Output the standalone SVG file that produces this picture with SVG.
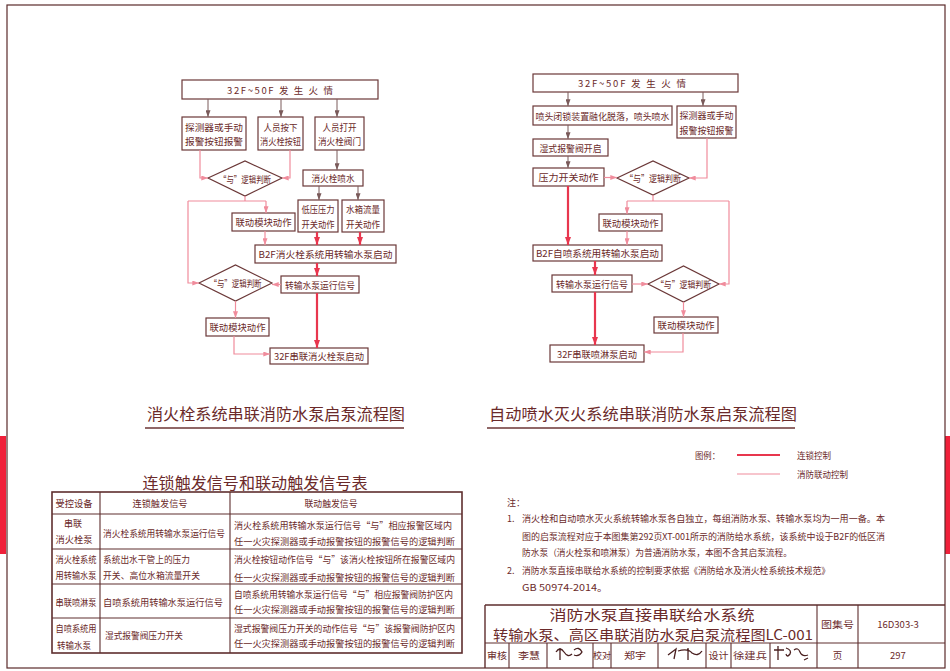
<svg xmlns="http://www.w3.org/2000/svg" width="950" height="671" viewBox="0 0 950 671">
<style>
.bx{fill:#fff;stroke:#6b3838;stroke-width:1.2}
.t{font-family:"Noto Sans CJK SC","Noto Sans",sans-serif;font-size:9.5px;fill:#6b2a2a;text-anchor:middle;dominant-baseline:central}
.ts{font-family:"Noto Sans CJK SC","Noto Sans",sans-serif;font-size:9px;fill:#6b2a2a;dominant-baseline:central}
.tl{font-family:"Noto Sans CJK SC","Noto Sans",sans-serif;fill:#6b2a2a;text-anchor:middle;dominant-baseline:central}
.g{stroke:#7a5a5a;stroke-width:1;fill:none}
.p{stroke:#f08c9c;stroke-width:1.2;fill:none}
.r{stroke:#e8364e;stroke-width:2.2;fill:none}
.ln{stroke:#5e2e2e;stroke-width:1.1;fill:none}
</style>
<defs>
<marker id="ag" viewBox="0 0 8 6" refX="8" refY="3" markerWidth="7" markerHeight="5" orient="auto" markerUnits="userSpaceOnUse"><path d="M0,0 L8,3 L0,6 z" fill="#7a5a5a"/></marker>
<marker id="ap" viewBox="0 0 8 6" refX="8" refY="3" markerWidth="7" markerHeight="5" orient="auto" markerUnits="userSpaceOnUse"><path d="M0,0 L8,3 L0,6 z" fill="#f08c9c"/></marker>
<marker id="ar" viewBox="0 0 8 6" refX="8" refY="3" markerWidth="8" markerHeight="6" orient="auto" markerUnits="userSpaceOnUse"><path d="M0,0 L8,3 L0,6 z" fill="#e8364e"/></marker>
</defs>
<rect x="0" y="0" width="950" height="671" fill="#fff"/>
<rect x="0" y="436" width="6" height="118" fill="#f0203a"/>
<rect x="945" y="436" width="5" height="118" fill="#f0203a"/>
<rect x="7" y="5" width="938" height="663" fill="none" stroke="#5a2a2a" stroke-width="1.2"/>

<!-- Left flowchart nodes -->
<g id="L_top"><rect class="bx" x="182" y="80" width="196" height="19"/><text class="t" x="280" y="89.5" font-size="11" textLength="106" lengthAdjust="spacing">32F~50F  发  生  火  情</text></g>
<g id="L_det"><rect class="bx" x="182" y="117" width="64" height="33"/><text class="t" x="214" y="127" textLength="58" lengthAdjust="spacingAndGlyphs">探测器或手动</text><text class="t" x="214" y="141" textLength="58" lengthAdjust="spacingAndGlyphs">报警按钮报警</text></g>
<g id="L_btn"><rect class="bx" x="258" y="117" width="45" height="33"/><text class="t" x="280.5" y="127" font-size="8.5" textLength="34" lengthAdjust="spacingAndGlyphs">人员按下</text><text class="t" x="280.5" y="141" font-size="8.5" textLength="41" lengthAdjust="spacingAndGlyphs">消火栓按钮</text></g>
<g id="L_open"><rect class="bx" x="315" y="117" width="49" height="33"/><text class="t" x="339.5" y="127" font-size="8.5" textLength="34" lengthAdjust="spacingAndGlyphs">人员打开</text><text class="t" x="339.5" y="141" font-size="8.5" textLength="43" lengthAdjust="spacingAndGlyphs">消火栓阀门</text></g>
<g id="L_and1"><polygon class="bx" points="208,178 245,161 282,178 245,196"/><text class="t" x="245" y="178.5" font-size="9" textLength="52" lengthAdjust="spacingAndGlyphs">“与”逻辑判断</text></g>
<g id="L_spray"><rect class="bx" x="303" y="170" width="60" height="16"/><text class="t" x="333" y="178" font-size="9" textLength="43" lengthAdjust="spacingAndGlyphs">消火栓喷水</text></g>
<g id="L_lp"><rect class="bx" x="298" y="200" width="40" height="32"/><text class="t" x="318" y="209" font-size="8.5" textLength="33" lengthAdjust="spacingAndGlyphs">低压压力</text><text class="t" x="318" y="224" font-size="8.5" textLength="33" lengthAdjust="spacingAndGlyphs">开关动作</text></g>
<g id="L_wt"><rect class="bx" x="342" y="200" width="42" height="32"/><text class="t" x="363" y="209" font-size="8.5" textLength="34" lengthAdjust="spacingAndGlyphs">水箱流量</text><text class="t" x="363" y="224" font-size="8.5" textLength="34" lengthAdjust="spacingAndGlyphs">开关动作</text></g>
<g id="L_lm1"><rect class="bx" x="232" y="213" width="63" height="18"/><text class="t" x="263.5" y="222" textLength="56" lengthAdjust="spacingAndGlyphs">联动模块动作</text></g>
<g id="L_b2f"><rect class="bx" x="255" y="245" width="141" height="18"/><text class="t" x="325.5" y="254" textLength="134" lengthAdjust="spacingAndGlyphs">B2F消火栓系统用转输水泵启动</text></g>
<g id="L_run"><rect class="bx" x="281" y="276" width="78" height="17"/><text class="t" x="320" y="284.5" font-size="9" textLength="70" lengthAdjust="spacingAndGlyphs">转输水泵运行信号</text></g>
<g id="L_and2"><polygon class="bx" points="199,283 235.5,265 272,283 235.5,301"/><text class="t" x="235.5" y="283" font-size="9" textLength="52" lengthAdjust="spacingAndGlyphs">“与”逻辑判断</text></g>
<g id="L_lm2"><rect class="bx" x="206" y="318" width="63" height="18"/><text class="t" x="237.5" y="327" textLength="56" lengthAdjust="spacingAndGlyphs">联动模块动作</text></g>
<g id="L_32f"><rect class="bx" x="270" y="348" width="98" height="16"/><text class="t" x="319" y="356" font-size="8.7" textLength="90" lengthAdjust="spacingAndGlyphs">32F串联消火栓泵启动</text></g>

<!-- Right flowchart nodes -->
<g id="R_top"><rect class="bx" x="533" y="74" width="205" height="18"/><text class="t" x="632" y="83" font-size="11" textLength="108" lengthAdjust="spacing">32F~50F  发  生  火  情</text></g>
<g id="R_nozzle"><rect class="bx" x="533" y="106" width="139" height="19"/><text class="t" x="602.5" y="115.5" font-size="9" textLength="134" lengthAdjust="spacingAndGlyphs">喷头闭锁装置融化脱落，喷头喷水</text></g>
<g id="R_det"><rect class="bx" x="677" y="106" width="59" height="32"/><text class="t" x="706.5" y="115" font-size="9" textLength="54" lengthAdjust="spacingAndGlyphs">探测器或手动</text><text class="t" x="706.5" y="130" font-size="9" textLength="54" lengthAdjust="spacingAndGlyphs">报警按钮报警</text></g>
<g id="R_wet"><rect class="bx" x="533" y="139" width="75" height="17"/><text class="t" x="570.5" y="147.5" font-size="9" textLength="62" lengthAdjust="spacingAndGlyphs">湿式报警阀开启</text></g>
<g id="R_ps"><rect class="bx" x="533" y="168" width="71" height="18"/><text class="t" x="568.5" y="177" font-size="10" textLength="60" lengthAdjust="spacingAndGlyphs">压力开关动作</text></g>
<g id="R_and1"><polygon class="bx" points="617,178 653,161 689,178 653,195"/><text class="t" x="653" y="178" textLength="56" lengthAdjust="spacingAndGlyphs">“与”逻辑判断</text></g>
<g id="R_lm1"><rect class="bx" x="599" y="214" width="63" height="17"/><text class="t" x="630.5" y="222.5" textLength="56" lengthAdjust="spacingAndGlyphs">联动模块动作</text></g>
<g id="R_b2f"><rect class="bx" x="533" y="245" width="129" height="16"/><text class="t" x="597.5" y="253" font-size="9" textLength="123" lengthAdjust="spacingAndGlyphs">B2F自喷系统用转输水泵启动</text></g>
<g id="R_run"><rect class="bx" x="552" y="275" width="80" height="17"/><text class="t" x="592" y="283.5" font-size="9" textLength="72" lengthAdjust="spacingAndGlyphs">转输水泵运行信号</text></g>
<g id="R_and2"><polygon class="bx" points="648,284 683.5,266 719,284 683.5,302"/><text class="t" x="683.5" y="284" font-size="9.2" textLength="55" lengthAdjust="spacingAndGlyphs">“与”逻辑判断</text></g>
<g id="R_lm2"><rect class="bx" x="654" y="317" width="64" height="16"/><text class="t" x="686" y="325" textLength="57" lengthAdjust="spacingAndGlyphs">联动模块动作</text></g>
<g id="R_32f"><rect class="bx" x="550" y="345" width="94" height="17"/><text class="t" x="597" y="353.5" font-size="8.5" textLength="80" lengthAdjust="spacingAndGlyphs">32F串联喷淋泵启动</text></g>

<!-- Connectors -->
<g id="connectors">
<path class="g" d="M208,99 V117" marker-end="url(#ag)"/>
<path class="g" d="M281,99 V117" marker-end="url(#ag)"/>
<path class="g" d="M337,99 V117" marker-end="url(#ag)"/>
<path class="g" d="M337,150 V170" marker-end="url(#ag)"/>
<path class="g" d="M319,186 V200" marker-end="url(#ag)"/>
<path class="g" d="M358,186 V200" marker-end="url(#ag)"/>
<path class="p" d="M200,150 V178 H208" marker-end="url(#ap)"/>
<path class="p" d="M290,150 V178 H282" marker-end="url(#ap)"/>
<path class="p" d="M245,196 V201 M188,201 H266"/>
<path class="p" d="M266,201 V213" marker-end="url(#ap)"/>
<path class="p" d="M188,201 V283 H199" marker-end="url(#ap)"/>
<path class="p" d="M265,231 V245" marker-end="url(#ap)"/>
<path class="p" d="M281,284.5 H272" marker-end="url(#ap)"/>
<path class="p" d="M235.5,301 V318" marker-end="url(#ap)"/>
<path class="p" d="M234,336 V354 H270" marker-end="url(#ap)"/>
<path class="r" d="M317,232 V245" marker-end="url(#ar)"/>
<path class="r" d="M360,232 V245" marker-end="url(#ar)"/>
<path class="r" d="M317,263 V276" marker-end="url(#ar)"/>
<path class="r" d="M317,293 V348" marker-end="url(#ar)"/>

<path class="g" d="M568,92 V106" marker-end="url(#ag)"/>
<path class="g" d="M703,92 V106" marker-end="url(#ag)"/>
<path class="g" d="M568,125 V139" marker-end="url(#ag)"/>
<path class="g" d="M568,156 V168" marker-end="url(#ag)"/>
<path class="p" d="M604,177.5 H617" marker-end="url(#ap)"/>
<path class="p" d="M707,138 V178 H689" marker-end="url(#ap)"/>
<path class="p" d="M653,195 V201 M627,201 H729"/>
<path class="p" d="M627,201 V214" marker-end="url(#ap)"/>
<path class="p" d="M729,201 V284 H719" marker-end="url(#ap)"/>
<path class="p" d="M627,231 V245" marker-end="url(#ap)"/>
<path class="p" d="M632,284 H648" marker-end="url(#ap)"/>
<path class="p" d="M683.5,302 V317" marker-end="url(#ap)"/>
<path class="p" d="M683,333 V352 H644" marker-end="url(#ap)"/>
<path class="r" d="M568,186 V245" marker-end="url(#ar)"/>
<path class="r" d="M595,261 V275" marker-end="url(#ar)"/>
<path class="r" d="M595,292 V345" marker-end="url(#ar)"/>
</g>

<!-- Chart titles -->
<g id="titles">
<text class="tl" x="276" y="413" font-size="16" textLength="258" lengthAdjust="spacingAndGlyphs">消火栓系统串联消防水泵启泵流程图</text>
<line x1="145" y1="428" x2="404" y2="428" stroke="#6b3535" stroke-width="1.6"/>
<text class="tl" x="643" y="413" font-size="16" textLength="308" lengthAdjust="spacingAndGlyphs">自动喷水灭火系统串联消防水泵启泵流程图</text>
<line x1="487" y1="428" x2="795" y2="428" stroke="#6b3535" stroke-width="1.6"/>
</g>

<!-- Table -->
<g id="table">
<text class="tl" x="255" y="482" font-size="16" textLength="225" lengthAdjust="spacingAndGlyphs">连锁触发信号和联动触发信号表</text>
<rect x="52" y="492" width="410" height="161" fill="none" stroke="#5e2e2e" stroke-width="1.6"/>
<path class="ln" d="M100,492 V653 M230,492 V653 M52,514 H462 M52,549 H462 M52,584 H462 M52,618 H462"/>
<text class="t" x="74" y="503" font-size="9" textLength="37" lengthAdjust="spacingAndGlyphs">受控设备</text>
<text class="t" x="160" y="503" font-size="9" textLength="55" lengthAdjust="spacingAndGlyphs">连锁触发信号</text>
<text class="t" x="331" y="503" font-size="9" textLength="53" lengthAdjust="spacingAndGlyphs">联动触发信号</text>

<text class="t" x="73" y="523" font-size="9" textLength="18" lengthAdjust="spacingAndGlyphs">串联</text>
<text class="t" x="74" y="539" font-size="9" textLength="37" lengthAdjust="spacingAndGlyphs">消火栓泵</text>
<text class="ts" x="103" y="533" textLength="122" lengthAdjust="spacingAndGlyphs">消火栓系统用转输水泵运行信号</text>
<text class="ts" x="234" y="525" textLength="218" lengthAdjust="spacingAndGlyphs">消火栓系统用转输水泵运行信号“与”相应报警区域内</text>
<text class="ts" x="234" y="541" textLength="221" lengthAdjust="spacingAndGlyphs">任一火灾探测器或手动报警按钮的报警信号的逻辑判断</text>

<text class="t" x="76" y="559" font-size="8.3" textLength="41" lengthAdjust="spacingAndGlyphs">消火栓系统</text>
<text class="t" x="76" y="575" font-size="8.3" textLength="41" lengthAdjust="spacingAndGlyphs">用转输水泵</text>
<text class="ts" x="103" y="559" textLength="87" lengthAdjust="spacingAndGlyphs">系统出水干管上的压力</text>
<text class="ts" x="103" y="575" textLength="97" lengthAdjust="spacingAndGlyphs">开关、高位水箱流量开关</text>
<text class="ts" x="234" y="559" font-size="8.8" textLength="221" lengthAdjust="spacingAndGlyphs">消火栓按钮动作信号“与”该消火栓按钮所在报警区域内</text>
<text class="ts" x="234" y="577" textLength="221" lengthAdjust="spacingAndGlyphs">任一火灾探测器或手动报警按钮的报警信号的逻辑判断</text>

<text class="t" x="76" y="602" font-size="8.3" textLength="41" lengthAdjust="spacingAndGlyphs">串联喷淋泵</text>
<text class="ts" x="103" y="602" textLength="120" lengthAdjust="spacingAndGlyphs">自喷系统用转输水泵运行信号</text>
<text class="ts" x="234" y="594" textLength="219" lengthAdjust="spacingAndGlyphs">自喷系统用转输水泵运行信号“与”相应报警阀防护区内</text>
<text class="ts" x="234" y="609" textLength="221" lengthAdjust="spacingAndGlyphs">任一火灾探测器或手动报警按钮的报警信号的逻辑判断</text>

<text class="t" x="76" y="628" font-size="8.3" textLength="41" lengthAdjust="spacingAndGlyphs">自喷系统用</text>
<text class="t" x="74" y="645" font-size="8.5" textLength="34" lengthAdjust="spacingAndGlyphs">转输水泵</text>
<text class="ts" x="105" y="635" textLength="78" lengthAdjust="spacingAndGlyphs">湿式报警阀压力开关</text>
<text class="ts" x="234" y="628" font-size="8.8" textLength="221" lengthAdjust="spacingAndGlyphs">湿式报警阀压力开关的动作信号“与”该报警阀防护区内</text>
<text class="ts" x="234" y="643" textLength="221" lengthAdjust="spacingAndGlyphs">任一火灾探测器或手动报警按钮的报警信号的逻辑判断</text>
</g>

<!-- Legend -->
<g id="legend">
<text class="ts" x="695" y="455" textLength="25" lengthAdjust="spacingAndGlyphs">图例：</text>
<line x1="737" y1="455" x2="780" y2="455" class="r"/>
<text class="ts" x="797" y="455" textLength="34" lengthAdjust="spacingAndGlyphs">连锁控制</text>
<line x1="737" y1="474" x2="780" y2="474" class="p"/>
<text class="ts" x="797" y="474" textLength="51" lengthAdjust="spacingAndGlyphs">消防联动控制</text>
</g>

<!-- Notes -->
<g id="notes">
<text class="ts" x="507" y="502" font-size="10">注：</text>
<text class="ts" x="507" y="518" font-family="Liberation Sans" font-size="10">1.</text>
<text class="ts" x="522" y="518" textLength="363" lengthAdjust="spacingAndGlyphs">消火栓和自动喷水灭火系统转输水泵各自独立，每组消防水泵、转输水泵均为一用一备。本</text>
<text class="ts" x="522" y="536" font-size="8.8" textLength="363" lengthAdjust="spacingAndGlyphs">图的启泵流程对应于本图集第292页XT-001所示的消防给水系统，该系统中设于B2F的低区消</text>
<text class="ts" x="522" y="552" textLength="270" lengthAdjust="spacingAndGlyphs">防水泵（消火栓泵和喷淋泵）为普通消防水泵，本图不含其启泵流程。</text>
<text class="ts" x="507" y="570" font-family="Liberation Sans" font-size="10">2.</text>
<text class="ts" x="522" y="570" font-size="8.8" textLength="308" lengthAdjust="spacingAndGlyphs">消防水泵直接串联给水系统的控制要求依据《消防给水及消火栓系统技术规范》</text>
<text class="ts" x="522" y="587" font-family="Liberation Sans" font-size="11" textLength="86" lengthAdjust="spacingAndGlyphs">GB 50974-2014。</text>
</g>

<!-- Title block -->
<g id="titleblock">
<path d="M485,605 H945 M485,605 V668" stroke="#5e2e2e" stroke-width="1.4" fill="none"/>
<path class="ln" d="M485,643 H945 M817,605 V668 M858,605 V668 M509,643 V668 M547,643 V668 M593,643 V668 M611,643 V668 M658,643 V668 M706,643 V668 M731,643 V668 M770,643 V668"/>
<text class="tl" x="652" y="613.5" font-size="14" textLength="205" lengthAdjust="spacingAndGlyphs">消防水泵直接串联给水系统</text>
<text class="tl" x="653" y="634" font-size="14" textLength="320" lengthAdjust="spacingAndGlyphs">转输水泵、高区串联消防水泵启泵流程图LC-001</text>
<text class="t" x="837.5" y="624" font-size="10.5" textLength="33" lengthAdjust="spacingAndGlyphs">图集号</text>
<text class="t" x="898" y="624" font-size="11" font-family="Liberation Serif">16D303-3</text>
<text class="t" x="497" y="655" font-size="10" fill="#8a4a4a" textLength="20" lengthAdjust="spacingAndGlyphs">审核</text>
<text class="t" x="529" y="655" font-size="10" fill="#8a4a4a" textLength="22" lengthAdjust="spacingAndGlyphs">李慧</text>
<text class="t" x="602" y="655" font-size="9" fill="#8a4a4a" textLength="18" lengthAdjust="spacingAndGlyphs">校对</text>
<text class="t" x="635" y="655" font-size="10" fill="#8a4a4a" textLength="22" lengthAdjust="spacingAndGlyphs">郑宇</text>
<text class="t" x="718.5" y="655" font-size="10" fill="#8a4a4a" textLength="20" lengthAdjust="spacingAndGlyphs">设计</text>
<text class="t" x="750" y="655" font-size="10.5" fill="#8a4a4a" textLength="34" lengthAdjust="spacingAndGlyphs">徐建兵</text>
<text class="t" x="837.5" y="655" font-size="11">页</text>
<text class="t" x="898" y="655" font-size="11" font-family="Liberation Serif">297</text>
<path d="M556,652 q4,-6 8,0 t8,2 M560,648 v12 M574,650 q5,-4 8,2 q-3,5 -8,3" stroke="#4a2020" stroke-width="1.3" fill="none"/>
<path d="M668,655 l8,-6 l-2,10 M678,651 q10,-3 14,2 q6,4 10,-2 M688,648 v12" stroke="#4a2020" stroke-width="1.3" fill="none"/>
<path d="M774,650 h10 M778,646 v14 M786,648 q6,2 4,6 q-3,4 -4,0 M794,650 q4,-3 6,2 q2,5 8,3 M804,660 l4,-2" stroke="#4a2020" stroke-width="1.3" fill="none"/>
</g>
</svg>
